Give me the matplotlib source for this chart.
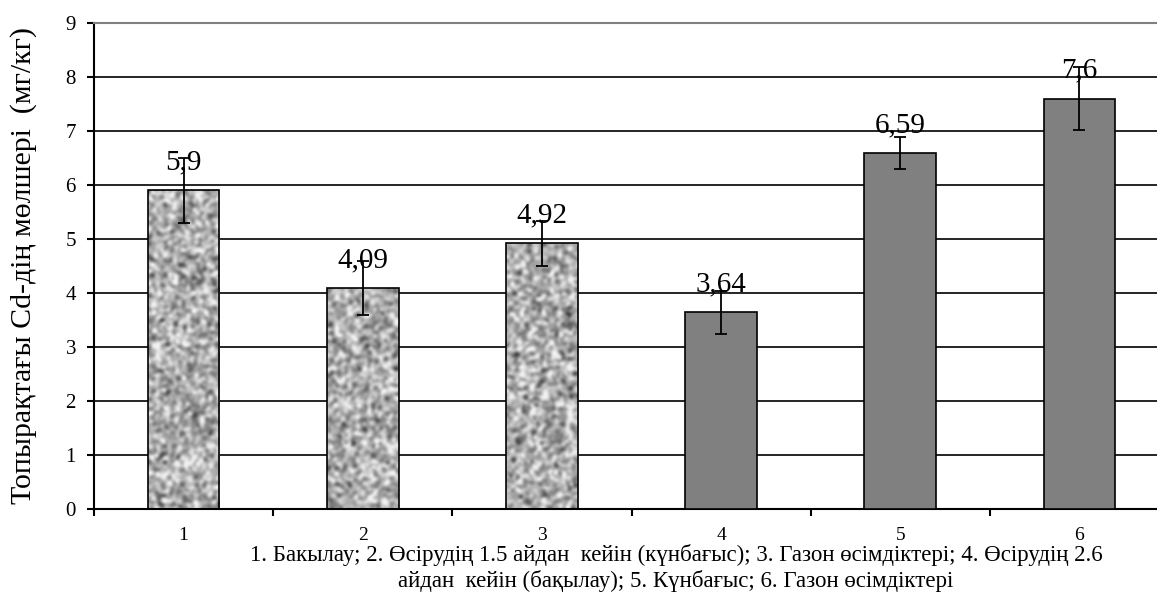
import numpy as np
import matplotlib
matplotlib.use("Agg")
import matplotlib.pyplot as plt
from matplotlib.ticker import FixedLocator

plt.rcParams['font.family'] = ['Liberation Serif', 'DejaVu Serif']

# ------------------------------
# Деректер
# ------------------------------
categories = [1, 2, 3, 4, 5, 6]
tick_labels = ["1", "2", "3", "4", "5", "6"]
values = [5.9, 4.09, 4.92, 3.64, 6.59, 7.6]
errors = [0.6, 0.5, 0.42, 0.4, 0.3, 0.58]
value_labels = ["5,9", "4,09", "4,92", "3,64", "6,59", "7,6"]
textured = [True, True, True, False, False, False]

ylabel = "Топырақтағы Cd-дің мөлшері  (мг/кг)"
caption_1 = "1. Бакылау; 2. Өсірудің 1.5 айдан  кейін (күнбағыс); 3. Газон өсімдіктері; 4. Өсірудің 2.6"
caption_2 = "айдан  кейін (бақылау); 5. Күнбағыс; 6. Газон өсімдіктері"

# ------------------------------
# Сурет
# ------------------------------
W, H = 1157, 595
fig = plt.figure(figsize=(W / 100, H / 100), dpi=100)
ax = fig.add_axes([94 / W, 86 / H, (1169 - 94) / W, 486 / H])

bars = ax.bar(categories, values, width=0.4, color="#808080",
              edgecolor="black", linewidth=1.2, zorder=3)

# гранит текстурасы (тек безендіру үшін)
rng = np.random.default_rng(7)
k = np.array([1, 2, 1]) / 4

def granite(rows, cols):
    n = rng.normal(size=(rows, cols))
    n = np.apply_along_axis(lambda r: np.convolve(r, k, mode="same"), 0, n)
    n = np.apply_along_axis(lambda r: np.convolve(r, k, mode="same"), 1, n)
    n = (n - n.mean()) / n.std()
    return np.clip(0.68 + 0.14 * n, 0.15, 0.95)

for b, t in zip(bars, textured):
    if not t:
        continue
    x0, w = b.get_x(), b.get_width()
    b.set_facecolor("none")
    im = ax.imshow(granite(243, 36), cmap="gray", vmin=0, vmax=1, aspect="auto",
                   extent=(x0, x0 + w, 0, 9), zorder=2.5, interpolation="bicubic")
    im.set_clip_path(b)

ax.errorbar(categories, values, yerr=errors, fmt="none", ecolor="black",
            elinewidth=1.3, capsize=4.3, capthick=1.3, zorder=4)

for x, v, lab in zip(categories, values, value_labels):
    ax.annotate(lab, (x, v), xytext=(0, 20), textcoords="offset points",
                ha="center", va="center", fontsize=21, zorder=5)

ax.set_xlim(0.5, 6.5)
ax.set_ylim(0, 9)
ax.set_yticks(range(0, 10))
ax.yaxis.grid(True, color="black", linewidth=1.2, zorder=0)
ax.set_axisbelow(True)

ax.set_xticks(categories)
ax.set_xticklabels(tick_labels, fontsize=14)
ax.xaxis.set_minor_locator(FixedLocator(np.arange(0.5, 7.0, 1.0)))
ax.tick_params(axis="x", which="major", length=0, pad=13)
ax.tick_params(axis="x", which="minor", length=5, width=1.5, direction="out")
ax.tick_params(axis="y", length=5, width=1.5, direction="out", pad=8, labelsize=15)

ax.spines["right"].set_visible(False)
ax.spines["top"].set_color("#808080")
ax.spines["top"].set_linewidth(1.5)
ax.spines["left"].set_linewidth(1.5)
ax.spines["bottom"].set_linewidth(1.5)

fig.text(24 / W, 1 - 266 / H, ylabel, rotation=90, ha="center", va="center", fontsize=21.5)
fig.text(676 / W, 1 - 555 / H, caption_1, ha="center", va="center", fontsize=16.5)
fig.text(676 / W, 1 - 581 / H, caption_2, ha="center", va="center", fontsize=16.5)

fig.savefig("out.png", dpi=100)
